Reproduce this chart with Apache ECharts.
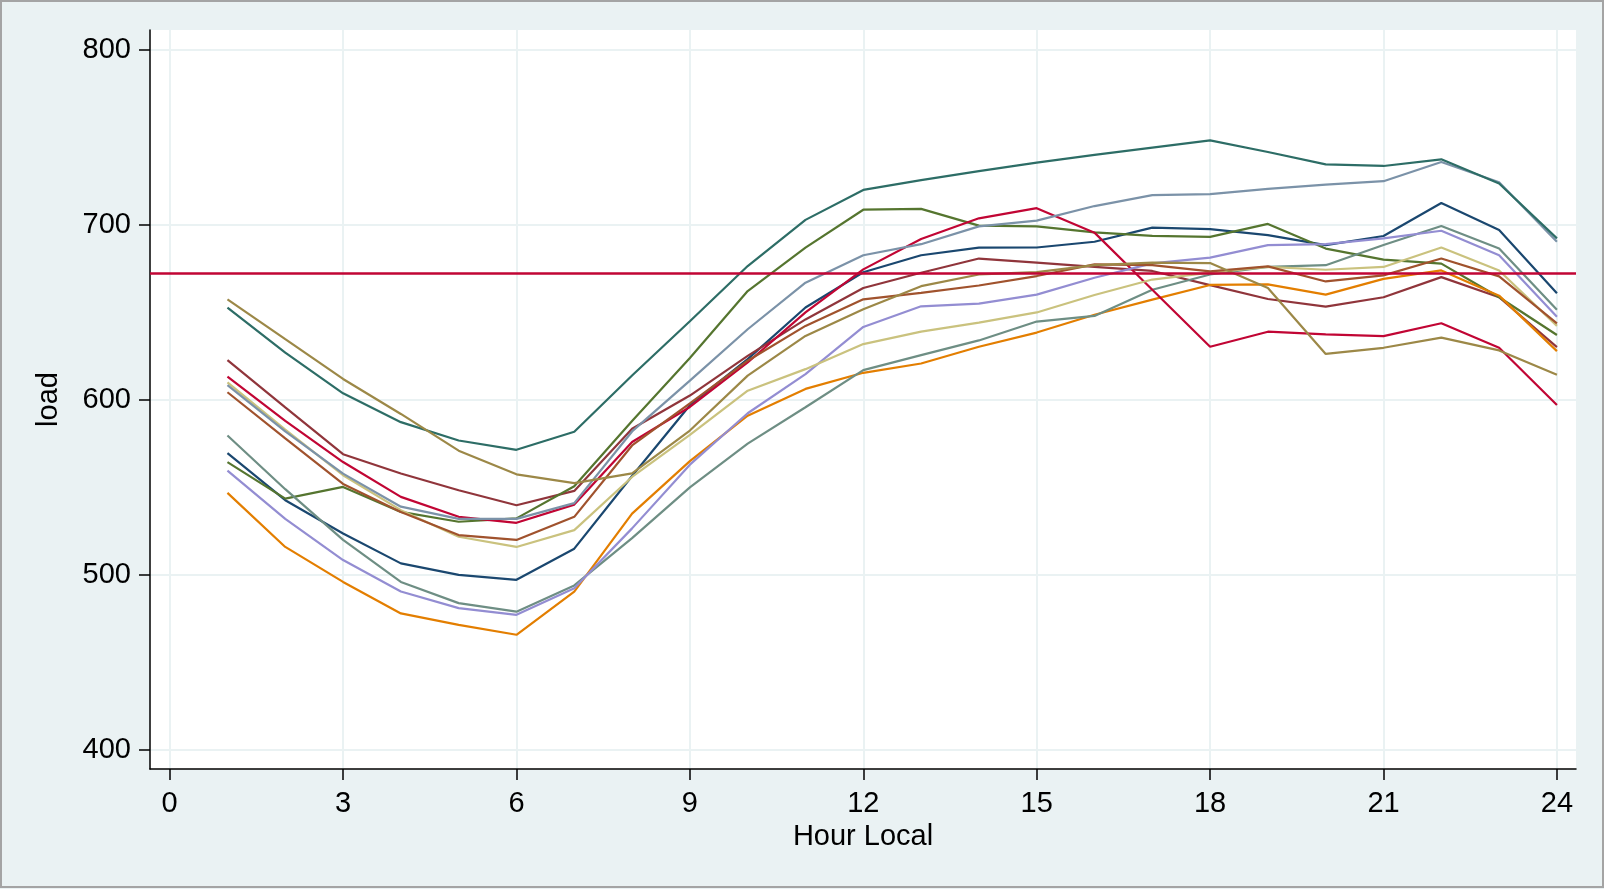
<!DOCTYPE html>
<html>
<head>
  <meta charset="utf-8">
  <title>load by hour</title>
  <script src="https://fastly.jsdelivr.net/npm/echarts@6/dist/echarts.min.js"></script>
  <style>
    html, body { margin: 0; padding: 0; background: #fff; }
    #main { position: absolute; left: 0; top: 0; width: 1604px; height: 889px; }
    #frame { position: absolute; left: 0; top: 0; width: 1600px; height: 884px; border: 2px solid #a4a4a4; pointer-events: none; }
  </style>
</head>
<body>
<div id="main"></div>
<div id="frame"></div>
<script type="text/javascript">
  // hours 1..24
  const hours = [1, 2, 3, 4, 5, 6, 7, 8, 9, 10, 11, 12, 13, 14, 15, 16, 17, 18, 19, 20, 21, 22, 23, 24];
  const xTicks = [0, 3, 6, 9, 12, 15, 18, 21, 24];
  const yTicks = [400, 500, 600, 700, 800];
  const refLine = 672.6;

  // one curve per day
  const navy      = [569.6, 542.7, 523.7, 506.6, 500, 497.2, 515, 556.5, 597, 623.3, 652.8, 673, 682.7, 687, 687.1, 690.4, 698.5, 697.6, 694.2, 688.5, 693.7, 712.5, 697.1, 661];
  const maroon    = [622.8, 595.8, 569, 558, 548.4, 539.8, 548, 583.5, 602.5, 625.2, 646, 664, 672.7, 680.8, 678.5, 676, 673.7, 665.6, 657.7, 653.3, 658.7, 670.2, 658.7, 630.2];
  const forest    = [564.5, 543.6, 550.3, 536, 530.4, 532.3, 550.7, 588, 624, 662.2, 687, 708.7, 709.2, 699.6, 699.2, 695.8, 693.8, 693.2, 700.6, 686.5, 680.2, 677.9, 658.7, 637.1];
  const dkorange  = [546.9, 516, 496, 478, 471.5, 465.8, 490.5, 535, 565, 591, 606.3, 615.5, 620.8, 630.4, 638.5, 648.7, 657.3, 665.7, 666, 660.2, 669.2, 674, 659.6, 627.9];
  const teal      = [579.7, 549, 520, 496, 483.9, 479, 494, 521, 550, 575, 595.8, 617, 625.6, 634, 644.8, 648, 663, 671.7, 676, 677, 688.5, 699.4, 686.5, 651.5];
  const cranberry = [613.3, 588, 564.5, 544.6, 533.2, 529.8, 540.2, 576, 596, 621.4, 650, 674.6, 692, 703.8, 709.6, 695.6, 663, 630.4, 639, 637.5, 636.5, 643.8, 629.8, 597.1];
  const lavender  = [559.6, 532, 508.5, 490.5, 481, 477.2, 492.4, 526.6, 563, 592.4, 614.8, 641.7, 653.5, 655, 660.2, 669.8, 678, 681.3, 688.5, 689, 692.3, 696.7, 682.7, 647.5];
  const khaki     = [610, 583, 557, 537, 521.8, 516, 525.6, 556, 580, 605.3, 617.6, 631.9, 639, 644.2, 650, 660, 668.8, 672.7, 676, 674.4, 676, 687.1, 674, 642.3];
  const sienna    = [604.4, 578, 552, 536, 522.8, 520, 533.2, 574, 598, 622.4, 642.3, 657.5, 661.2, 665.4, 670.8, 677.5, 677, 673.5, 676.3, 667.7, 671.2, 680.8, 670.6, 643.7];
  const emidblue  = [608.5, 582, 557.9, 539, 532, 532, 541, 582, 611, 640.4, 667, 682.7, 689, 699.2, 702.5, 710.8, 717, 717.6, 720.6, 723, 725, 736, 724.4, 690.4];
  const emerald   = [652.8, 627, 603.8, 587.3, 576.8, 571.5, 581.8, 614, 645, 676.5, 702.9, 720, 725.6, 730.8, 735.6, 740, 744.2, 748.3, 741.7, 734.6, 733.7, 737.5, 723.7, 692.3];
  const brown     = [657.5, 634.7, 612, 592, 571, 557.5, 552.5, 558, 582.5, 613.9, 636.6, 651.8, 665, 671.7, 673, 677, 678.5, 678.2, 664, 626.3, 629.8, 635.6, 628.3, 614.4];

  const curves = [navy, maroon, forest, dkorange, teal, cranberry, lavender, khaki, sienna, emidblue, emerald, brown];
  const colors = ['#1a476f', '#90353b', '#55752f', '#e37e00', '#6e8e84', '#c10534',
                  '#938dd2', '#cac27e', '#a0522d', '#7b92a8', '#2d6d66', '#9c8847'];

  const font = "'Liberation Sans', Arial, sans-serif";
  const gridColor = '#eaf2f3';

  var myChart = echarts.init(document.getElementById('main'));

  let series = curves.map(function (vals, i) {
    return {
      type: 'line',
      data: hours.map(function (h, j) { return [h, vals[j]]; }),
      showSymbol: false,
      symbol: 'none',
      silent: true,
      animation: false,
      lineStyle: { color: colors[i], width: 2.2 }
    };
  });
  series.push({
    type: 'line',
    data: [],
    silent: true,
    animation: false,
    markLine: {
      silent: true,
      symbol: ['none', 'none'],
      label: { show: false },
      animation: false,
      lineStyle: { color: '#c10534', width: 2.5, type: 'solid' },
      data: [{ yAxis: refLine }]
    }
  });

  var option = {
    backgroundColor: '#eaf2f3',
    animation: false,
    grid: {
      left: 150, right: 28, top: 30, bottom: 120,
      show: true, backgroundColor: '#ffffff', borderWidth: 0
    },
    xAxis: {
      type: 'value',
      min: -0.34,
      max: 24.33,
      name: 'Hour Local',
      nameLocation: 'middle',
      nameGap: 50,
      nameTextStyle: { fontFamily: font, fontSize: 29, color: '#000' },
      axisLine: { show: true, onZero: false, lineStyle: { color: '#000', width: 1.5 } },
      axisTick: { show: true, length: 11, customValues: xTicks, lineStyle: { color: '#000', width: 1.5 } },
      axisLabel: { customValues: xTicks, margin: 20, fontFamily: font, fontSize: 29, color: '#000' },
      splitLine: { show: true, lineStyle: { color: gridColor, width: 2 } }
    },
    yAxis: {
      type: 'value',
      min: 389.1,
      max: 811.4,
      name: 'load',
      nameLocation: 'middle',
      nameGap: 87,
      nameTextStyle: { fontFamily: font, fontSize: 29, color: '#000' },
      axisLine: { show: true, onZero: false, lineStyle: { color: '#000', width: 1.5 } },
      axisTick: { show: true, length: 11, customValues: yTicks, lineStyle: { color: '#000', width: 1.5 } },
      axisLabel: { customValues: yTicks, margin: 19, fontFamily: font, fontSize: 29, color: '#000' },
      splitLine: { show: true, lineStyle: { color: gridColor, width: 2 } }
    },
    series: series
  };

  option && myChart.setOption(option);
  window.addEventListener('resize', myChart.resize);
</script>
</body>
</html>
